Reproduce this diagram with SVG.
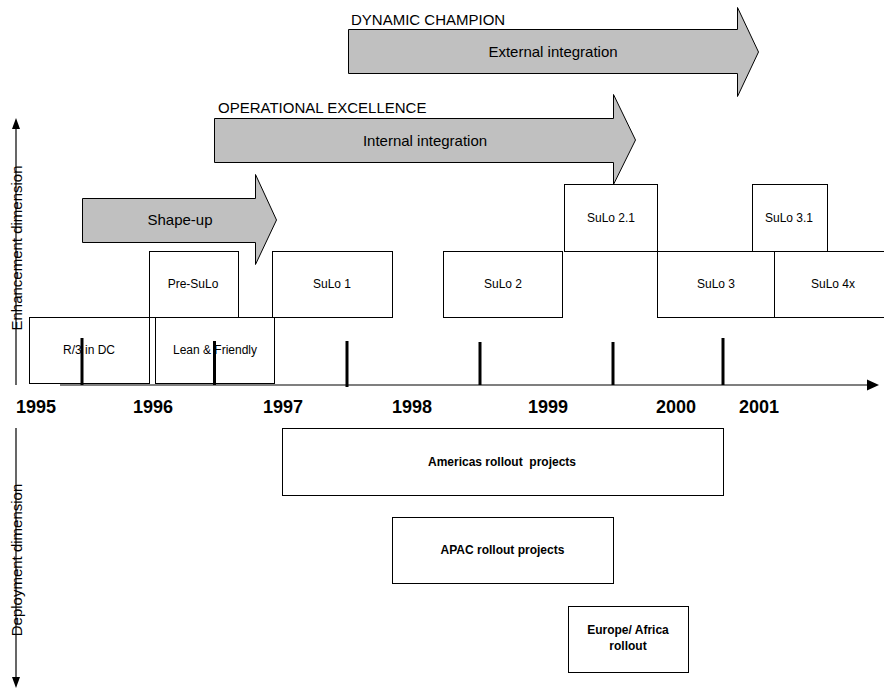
<svg xmlns="http://www.w3.org/2000/svg" width="884" height="689" viewBox="0 0 884 689">
  <defs>
    <style>
      .arrow { fill: #c0c0c0; stroke: #000; stroke-width: 1; }
      .box { fill: #fff; stroke: #000; stroke-width: 1; }
      .phase { font-family: "Liberation Sans", Arial, sans-serif; font-size: 15px; fill: #000; }
      .lbl { font-family: "Liberation Sans", Arial, sans-serif; font-size: 12px; fill: #000; text-anchor: middle; }
      .blbl { font-family: "Liberation Sans", Arial, sans-serif; font-size: 12px; font-weight: bold; fill: #000; text-anchor: middle; }
      .year { font-family: "Liberation Sans", Arial, sans-serif; font-size: 18px; font-weight: bold; fill: #000; }
      .dim { font-family: "Liberation Sans", Arial, sans-serif; font-size: 15px; fill: #000; text-anchor: middle; }
      .tick { stroke: #000; stroke-width: 3; }
      .axis { stroke: #000; stroke-width: 1.2; fill: none; }
    </style>
  </defs>

  <rect width="884" height="689" fill="#fff"/>

  <!-- strategic phase arrows -->
  <g id="dynamic-champion">
    <text class="phase" x="351" y="25">DYNAMIC CHAMPION</text>
    <polygon class="arrow" points="348.5,29.5 737.5,29.5 737.5,7.5 758.5,52 737.5,96.5 737.5,73.5 348.5,73.5"/>
    <text class="phase" x="553" y="57" text-anchor="middle">External integration</text>
  </g>
  <g id="operational-excellence">
    <text class="phase" x="218" y="113">OPERATIONAL EXCELLENCE</text>
    <polygon class="arrow" points="214.5,118.5 613.5,118.5 613.5,94.5 635.5,140 613.5,184.5 613.5,162.5 214.5,162.5"/>
    <text class="phase" x="425" y="146" text-anchor="middle">Internal integration</text>
  </g>
  <g id="shape-up">
    <polygon class="arrow" points="82.5,198.5 255.5,198.5 255.5,174.5 276.5,220 255.5,264.5 255.5,242.5 82.5,242.5"/>
    <text class="phase" x="180" y="225" text-anchor="middle">Shape-up</text>
  </g>

  <!-- release boxes -->
  <g id="sulo-2-1">
    <rect class="box" x="564.5" y="184.5" width="93" height="67"/>
    <text class="lbl" x="611" y="222">SuLo 2.1</text>
  </g>
  <g id="sulo-3-1">
    <rect class="box" x="752.5" y="184.5" width="75" height="67"/>
    <text class="lbl" x="789" y="222">SuLo 3.1</text>
  </g>
  <g id="pre-sulo">
    <rect class="box" x="149.5" y="251.5" width="89" height="66"/>
    <text class="lbl" x="193" y="288">Pre-SuLo</text>
  </g>
  <g id="sulo-1">
    <rect class="box" x="272.5" y="251.5" width="120" height="66"/>
    <text class="lbl" x="332" y="288">SuLo 1</text>
  </g>
  <g id="sulo-2">
    <rect class="box" x="443.5" y="251.5" width="119" height="66"/>
    <text class="lbl" x="503" y="288">SuLo 2</text>
  </g>
  <g id="sulo-3">
    <rect class="box" x="657.5" y="251.5" width="117" height="66"/>
    <text class="lbl" x="716" y="288">SuLo 3</text>
  </g>
  <g id="sulo-4x">
    <rect class="box" x="774.5" y="251.5" width="120" height="66"/>
    <text class="lbl" x="833" y="288">SuLo 4x</text>
  </g>
  <g id="r3-in-dc">
    <rect class="box" x="29.5" y="317.5" width="120" height="66"/>
    <text class="lbl" x="89" y="354">R/3 in DC</text>
  </g>
  <g id="lean-friendly">
    <rect class="box" x="155.5" y="317.5" width="119" height="66"/>
    <text class="lbl" x="215" y="354">Lean &amp; Friendly</text>
  </g>

  <!-- rollout boxes -->
  <g id="americas-rollout">
    <rect class="box" x="282.5" y="428.5" width="441" height="67"/>
    <text class="blbl" x="502" y="466" xml:space="preserve">Americas rollout  projects</text>
  </g>
  <g id="apac-rollout">
    <rect class="box" x="392.5" y="517.5" width="221" height="66"/>
    <text class="blbl" x="502.5" y="554">APAC rollout projects</text>
  </g>
  <g id="europe-africa-rollout">
    <rect class="box" x="568.5" y="606.5" width="120" height="66"/>
    <text class="blbl" x="628" y="634">Europe/ Africa</text>
    <text class="blbl" x="628" y="650">rollout</text>
  </g>

  <!-- time axis and dimension axes -->
  <g id="connectors">
    <line class="axis" x1="60" y1="385" x2="868" y2="385" stroke-width="2"/>
    <polygon points="867,379.5 879,385 867,390.5" fill="#000"/>
    <line class="tick" x1="82" y1="338" x2="82" y2="385"/>
    <line class="tick" x1="214.5" y1="341" x2="214.5" y2="385"/>
    <line class="tick" x1="347" y1="341" x2="347" y2="387"/>
    <line class="tick" x1="480" y1="342" x2="480" y2="385"/>
    <line class="tick" x1="613" y1="342" x2="613" y2="385"/>
    <line class="tick" x1="723" y1="338" x2="723" y2="385"/>

    <text class="dim" transform="translate(22,248) rotate(-90)">Enhancement dimension</text>
    <line class="axis" x1="16" y1="127" x2="16" y2="385"/>
    <polygon points="16,118 12,129 20,129" fill="#000"/>

    <text class="dim" transform="translate(22,560) rotate(-90)">Deployment dimension</text>
    <line class="axis" x1="16" y1="428" x2="16" y2="678"/>
    <polygon points="16,688 12,677 20,677" fill="#000"/>
  </g>

  <!-- year labels -->
  <g id="years">
    <text class="year" x="16" y="413">1995</text>
    <text class="year" x="133" y="413">1996</text>
    <text class="year" x="263" y="413">1997</text>
    <text class="year" x="392" y="413">1998</text>
    <text class="year" x="528" y="413">1999</text>
    <text class="year" x="656" y="413">2000</text>
    <text class="year" x="739" y="413">2001</text>
  </g>
</svg>
